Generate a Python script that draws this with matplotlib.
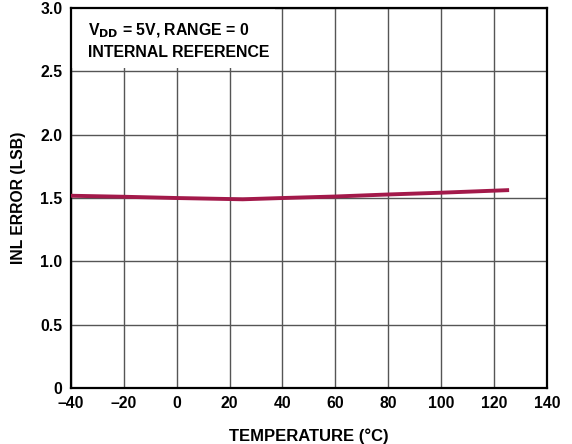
import numpy as np
import matplotlib.pyplot as plt
from matplotlib.patches import Rectangle

plt.rcParams['font.family'] = ['Liberation Sans', 'DejaVu Sans']
plt.rcParams['font.weight'] = 'bold'

# data
temp = [-40, -20, 0, 25, 40, 60, 80, 100, 125]
inl = [1.518, 1.510, 1.500, 1.490, 1.500, 1.512, 1.528, 1.542, 1.562]

x_ticks = [-40, -20, 0, 20, 40, 60, 80, 100, 120, 140]
x_labels = ['\u201340', '\u201320', '0', '20', '40', '60', '80', '100', '120', '140']
y_ticks = [0, 0.5, 1.0, 1.5, 2.0, 2.5, 3.0]
y_labels = ['0', '0.5', '1.0', '1.5', '2.0', '2.5', '3.0']

fig = plt.figure(figsize=(5.72, 4.44), dpi=100)
ax = fig.add_axes([0.124, 0.126, 0.832, 0.856])

ax.plot(temp, inl, color='#A3194A', lw=2.8, zorder=3)

ax.set_xlim(-40, 140)
ax.set_ylim(0, 3.0)
ax.set_xticks(x_ticks)
ax.set_xticklabels(x_labels)
ax.set_yticks(y_ticks)
ax.set_yticklabels(y_labels)
ax.tick_params(length=0, labelsize=11.3, pad=6)
ax.grid(True, color='#555555', lw=1.0)
for s in ax.spines.values():
    s.set_linewidth(1.6)
    s.set_color('black')

ax.set_xlabel('TEMPERATURE (°C)', fontsize=12, fontweight='bold', labelpad=12)
ax.set_ylabel('INL ERROR (LSB)', fontsize=11.3, fontweight='bold', labelpad=10)

# white panel behind the condition note
ax.add_patch(Rectangle((-40, 2.53), 77, 0.47, fc='white', ec='none', zorder=2))
ax.text(-33.5, 2.82, r'V$_{\mathbf{DD}}$ = 5V, RANGE = 0', fontsize=11.4, fontweight='bold',
        va='center', ha='left', zorder=4)
ax.text(-33.5, 2.65, 'INTERNAL REFERENCE', fontsize=11.4, fontweight='bold',
        va='center', ha='left', zorder=4)

fig.savefig('out.png', dpi=100)
